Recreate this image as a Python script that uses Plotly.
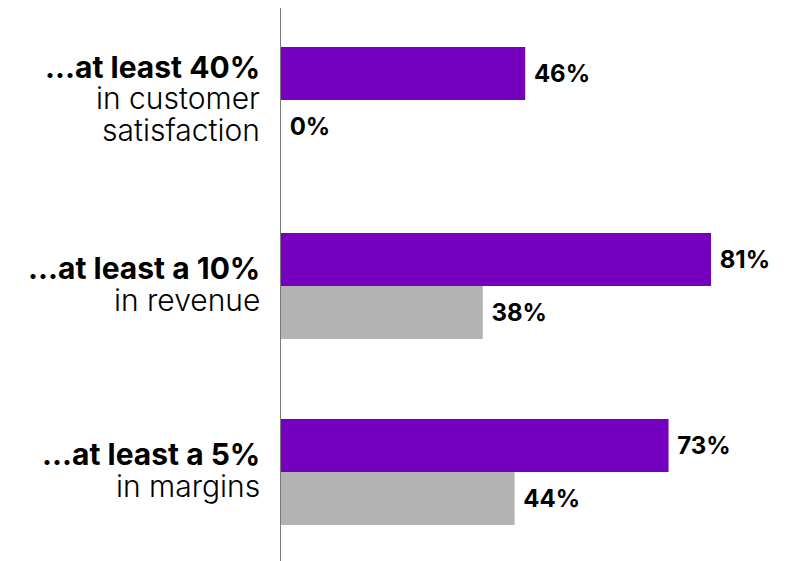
import plotly.graph_objects as go

categories = ["...at least 40%", "...at least a 10%", "...at least a 5%"]
category_sublines = [["in customer", "satisfaction"], ["in revenue"], ["in margins"]]
series_a = [46, 81, 73]
series_b = [0, 38, 44]
labels_a = [f" {v}%" for v in series_a]
labels_b = [f" {v}%" for v in series_b]

PURPLE = "#7500C0"
GRAY = "#B3B3B3"
FONT = "Inter, Roboto, sans-serif"
LINE_STEP = 31.5

fig = go.Figure()
for vals, labs, col in [(series_a, labels_a, PURPLE), (series_b, labels_b, GRAY)]:
    fig.add_trace(go.Bar(
        y=categories, x=vals, orientation="h",
        marker=dict(color=col, line=dict(width=0)),
        text=labs, textposition="outside", cliponaxis=False,
        textfont=dict(family=FONT, size=24, color="#000000", weight=700),
        hoverinfo="skip",
    ))

annotations = []
for cat, subs in zip(categories, category_sublines):
    lines = [(cat, 700)] + [(s, 300) for s in subs]
    n = len(lines)
    for i, (txt, w) in enumerate(lines):
        annotations.append(dict(
            xref="paper", x=0, xanchor="right", xshift=-19,
            yref="y", y=cat, yanchor="middle",
            yshift=-(i - (n - 1) / 2) * LINE_STEP + 2,
            text=txt, showarrow=False, align="right",
            font=dict(family=FONT, size=30, color="#000000", weight=w),
        ))

fig.update_layout(
    width=788, height=561,
    margin=dict(l=281, r=0, t=8, b=0),
    paper_bgcolor="white", plot_bgcolor="white",
    barmode="group", bargap=0.43, bargroupgap=0,
    showlegend=False,
    annotations=annotations,
    xaxis=dict(range=[0, 95.5], visible=False, showgrid=False, zeroline=False),
    yaxis=dict(
        type="category", categoryorder="array", categoryarray=categories,
        range=[2.478, -0.495],
        showline=True, linecolor="#7a7a7a", linewidth=1,
        showgrid=False, zeroline=False, showticklabels=False, ticks="",
    ),
)

fig.write_html("out.html")
